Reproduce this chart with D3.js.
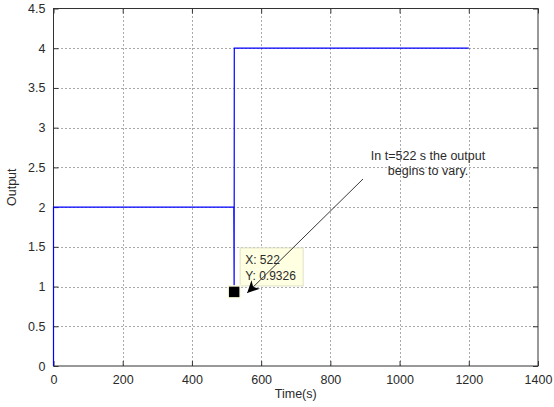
<!DOCTYPE html>
<html>
<head>
<meta charset="utf-8">
<script src="https://cdn.jsdelivr.net/npm/d3@7"></script>
<style>
  html, body { margin: 0; padding: 0; background: #fff; }
  svg text { font-family: "Liberation Sans", Arial, sans-serif; fill: #2a2a2a; }
</style>
</head>
<body>
<svg id="chart" width="554" height="407"></svg>
<script>
// step response samples
const timeS = [0, 0, 521, 522, 522.4, 1200];
const output = [0, 2, 2, 0.9326, 4, 4];
const xTicks = [0, 200, 400, 600, 800, 1000, 1200, 1400];
const yTicks = [0, 0.5, 1, 1.5, 2, 2.5, 3, 3.5, 4, 4.5];
const tipPoint = { t: 522, y: 0.9326 };

const svg = d3.select("#chart");
const plotL = 53.5, plotR = 538, plotT = 8.5, plotB = 366;

const x = d3.scaleLinear().domain([0, 1400]).range([plotL, plotR]);
const y = d3.scaleLinear().domain([0, 4.5]).range([plotB, plotT]);

// grid
const grid = svg.append("g").attr("stroke", "#555").attr("stroke-width", 1)
  .attr("stroke-dasharray", "1,3");
xTicks.slice(1, -1).forEach((t) => {
  grid.append("line").attr("x1", Math.round(x(t)) + 0.5).attr("x2", Math.round(x(t)) + 0.5)
    .attr("y1", plotT).attr("y2", plotB);
});
yTicks.slice(1, -1).forEach((v) => {
  grid.append("line").attr("y1", Math.round(y(v)) + 0.5).attr("y2", Math.round(y(v)) + 0.5)
    .attr("x1", plotL).attr("x2", plotR);
});

// axes (ticks inside)
const fmt = (d) => String(d);
svg.append("g").attr("transform", `translate(0,${plotB})`)
  .call(d3.axisBottom(x).tickValues(xTicks).tickSize(-5).tickPadding(9).tickFormat(fmt))
  .call((g) => g.select(".domain").remove());
svg.append("g").attr("transform", `translate(${plotL},0)`)
  .call(d3.axisLeft(y).tickValues(yTicks).tickSize(-5).tickPadding(8).tickFormat(fmt))
  .call((g) => g.select(".domain").remove());
svg.append("g").attr("transform", `translate(0,${plotT})`)
  .call(d3.axisTop(x).tickValues(xTicks).tickSize(-5).tickFormat(""))
  .call((g) => g.select(".domain").remove());
svg.append("g").attr("transform", `translate(${plotR},0)`)
  .call(d3.axisRight(y).tickValues(yTicks).tickSize(-5).tickFormat(""))
  .call((g) => g.select(".domain").remove());
svg.selectAll(".tick line").attr("stroke", "#333");
svg.selectAll(".tick text").style("font-size", "12.5px").attr("fill", "#2a2a2a");

svg.append("rect").attr("x", plotL).attr("y", plotT)
  .attr("width", plotR - plotL).attr("height", plotB - plotT)
  .attr("fill", "none").attr("stroke", "#333").attr("stroke-width", 1);

// data line
const line = d3.line().x((d, i) => x(timeS[i])).y((d, i) => y(output[i]));
svg.append("path").datum(output).attr("d", line)
  .attr("fill", "none").attr("stroke", "#0000ff").attr("stroke-width", 1.2);

// labels
svg.append("text").attr("x", (plotL + plotR) / 2).attr("y", 398)
  .attr("text-anchor", "middle").style("font-size", "12.5px").text("Time(s)");
svg.append("text").attr("transform", `translate(16,${(plotT + plotB) / 2}) rotate(-90)`)
  .attr("text-anchor", "middle").style("font-size", "12.5px").text("Output");

// data tip
const px = x(tipPoint.t), py = y(tipPoint.y);
svg.append("rect").attr("x", px + 6).attr("y", py - 44).attr("width", 63).attr("height", 38)
  .attr("fill", "#ffffe1").attr("stroke", "#e0e0c8");
svg.append("text").attr("x", px + 11).attr("y", py - 28).style("font-size", "12px")
  .text("X: " + tipPoint.t);
svg.append("text").attr("x", px + 11).attr("y", py - 12).style("font-size", "12px")
  .text("Y: " + tipPoint.y);
svg.append("rect").attr("x", px - 6).attr("y", py - 6).attr("width", 12).attr("height", 12)
  .attr("fill", "#000").attr("stroke", "#ffffe1").attr("stroke-width", 1.5);

// annotation arrow
const ax0 = 363, ay0 = 179, ax1 = px + 13, ay1 = py + 1;
const defs = svg.append("defs");
defs.append("marker").attr("id", "head").attr("viewBox", "0 -5 10 10")
  .attr("refX", 10).attr("refY", 0).attr("markerWidth", 16).attr("markerHeight", 12)
  .attr("markerUnits", "userSpaceOnUse").attr("orient", "auto")
  .append("path").attr("d", "M0,-5L10,0L0,5L3,0Z").attr("fill", "#000");
svg.append("line").attr("x1", ax0).attr("y1", ay0).attr("x2", ax1).attr("y2", ay1)
  .attr("stroke", "#222").attr("stroke-width", 0.9).attr("marker-end", "url(#head)");

svg.append("text").attr("x", 428).attr("y", 160).attr("text-anchor", "middle")
  .style("font-size", "12.5px").text("In t=522 s the output");
svg.append("text").attr("x", 428).attr("y", 175).attr("text-anchor", "middle")
  .style("font-size", "12.5px").text("begins to vary.");
</script>
</body>
</html>
